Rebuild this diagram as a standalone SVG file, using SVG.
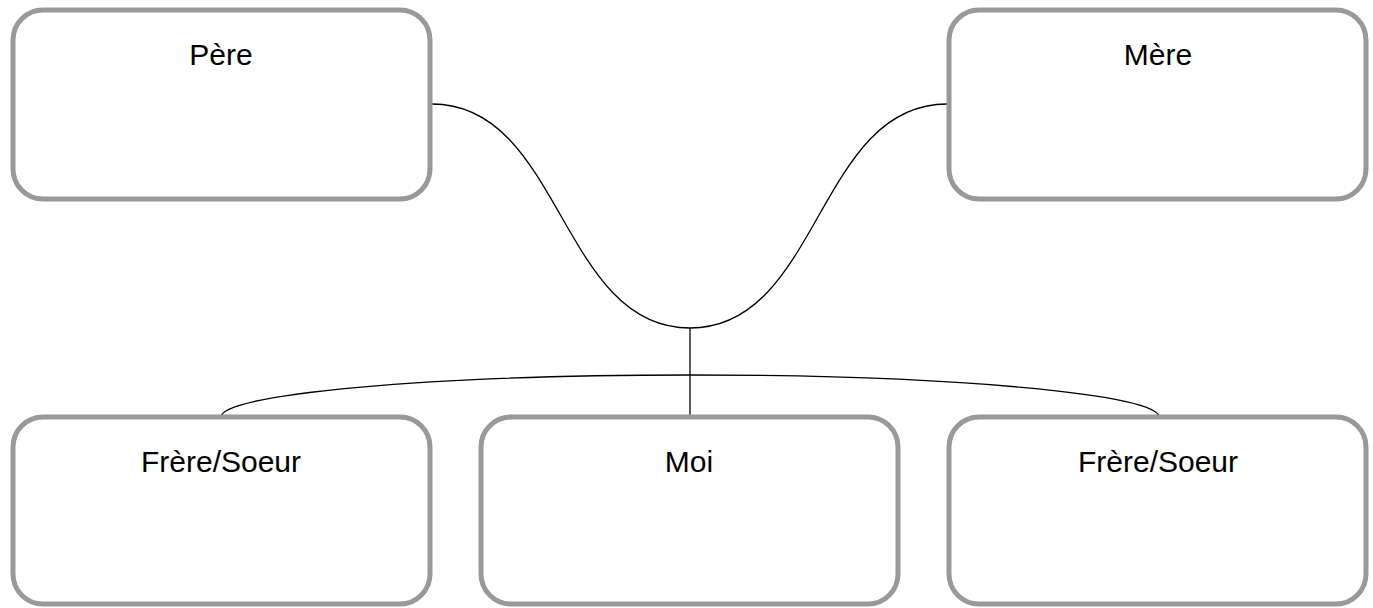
<svg xmlns="http://www.w3.org/2000/svg" width="1373" height="608" viewBox="0 0 1373 608">
<style>
.box{fill:#ffffff;stroke:#999999;stroke-width:5}
.lbl{font-family:"Liberation Sans",Arial,sans-serif;font-size:30px;fill:#000000;text-anchor:middle}
.conn{fill:none;stroke:#000000;stroke-width:1.3}
</style>
<rect width="1373" height="608" fill="#ffffff"/>
<g id="connectors">
<path class="conn" d="M432,104 C562,104 560,328 690,328"/>
<path class="conn" d="M947,104 C817,104 820,328 690,328"/>
<path class="conn" d="M690,328 L690,417"/>
<path class="conn" d="M221,417 A469,42 0 0 1 1159,417"/>
</g>
<g id="pere">
<rect class="box" x="13" y="10" width="417" height="189" rx="30" ry="30"/>
<text class="lbl" x="221" y="65">Père</text>
</g>
<g id="mere">
<rect class="box" x="949" y="10" width="417" height="189" rx="30" ry="30"/>
<text class="lbl" x="1158" y="65">Mère</text>
</g>
<g id="frere-soeur-gauche">
<rect class="box" x="13" y="417" width="417" height="187" rx="30" ry="30"/>
<text class="lbl" x="221" y="472">Frère/Soeur</text>
</g>
<g id="moi">
<rect class="box" x="481" y="417" width="417" height="187" rx="30" ry="30"/>
<text class="lbl" x="689" y="472">Moi</text>
</g>
<g id="frere-soeur-droite">
<rect class="box" x="949" y="417" width="417" height="187" rx="30" ry="30"/>
<text class="lbl" x="1158" y="472">Frère/Soeur</text>
</g>
</svg>
